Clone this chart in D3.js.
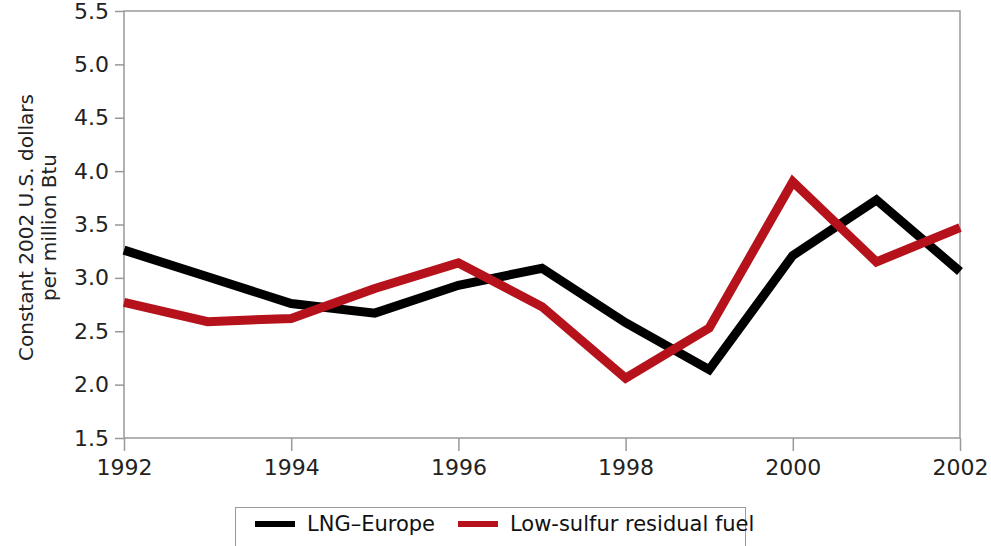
<!DOCTYPE html>
<html>
<head>
<meta charset="utf-8">
<script src="https://cdn.jsdelivr.net/npm/d3@7"></script>
<style>
  body { margin: 0; background: #fff; }
  svg { display: block; font-family: "DejaVu Sans", sans-serif; }
</style>
</head>
<body>
<script>
// Chart data
var years = [1992, 1993, 1994, 1995, 1996, 1997, 1998, 1999, 2000, 2001, 2002];
var lngEurope = [3.26, 3.01, 2.76, 2.67, 2.93, 3.09, 2.58, 2.14, 3.21, 3.73, 3.06];
var lowSulfur = [2.77, 2.59, 2.62, 2.90, 3.14, 2.73, 2.06, 2.53, 3.90, 3.15, 3.47];
var yTicks = [1.5, 2.0, 2.5, 3.0, 3.5, 4.0, 4.5, 5.0, 5.5];
var xTicks = [1992, 1994, 1996, 1998, 2000, 2002];
var seriesNames = ["LNG\u2013Europe", "Low-sulfur residual fuel"];
var seriesColors = ["#000000", "#b5121b"];

var width = 991, height = 546;
var margin = {left: 124, right: 31, top: 11, bottom: 108};

var svg = d3.select("body").append("svg")
    .attr("width", width)
    .attr("height", height);

var x = d3.scaleLinear()
    .domain([1992, 2002])
    .range([margin.left, width - margin.right]);

var y = d3.scaleLinear()
    .domain([1.5, 5.5])
    .range([height - margin.bottom, margin.top]);

// Plot frame
svg.append("rect")
    .attr("x", x(1992))
    .attr("y", y(5.5))
    .attr("width", x(2002) - x(1992))
    .attr("height", y(1.5) - y(5.5))
    .attr("fill", "none")
    .attr("stroke", "#999")
    .attr("stroke-width", 1.5);

// Y axis
var yAxis = svg.append("g")
    .attr("transform", "translate(" + margin.left + ",0)")
    .call(d3.axisLeft(y).tickValues(yTicks).tickFormat(d3.format(".1f")).tickSize(9).tickPadding(6));
yAxis.select(".domain").remove();
yAxis.selectAll("line").attr("stroke", "#999").attr("stroke-width", 1.5);
yAxis.selectAll("text").attr("font-size", 22).attr("fill", "#222")
    .attr("font-family", "DejaVu Sans");

// X axis
var xAxis = svg.append("g")
    .attr("transform", "translate(0," + y(1.5) + ")")
    .call(d3.axisBottom(x).tickValues(xTicks).tickFormat(d3.format("d")).tickSize(13).tickPadding(8));
xAxis.select(".domain").remove();
xAxis.selectAll("line").attr("stroke", "#999").attr("stroke-width", 1.5);
xAxis.selectAll("text").attr("font-size", 22).attr("fill", "#222")
    .attr("font-family", "DejaVu Sans");

// Y axis title
var title = svg.append("text")
    .attr("transform", "translate(33," + (y(3.5) + 3) + ") rotate(-90)")
    .attr("text-anchor", "middle")
    .attr("font-size", 20)
    .attr("fill", "#222");
title.append("tspan").attr("x", 0).attr("dy", 0).text("Constant 2002 U.S. dollars");
title.append("tspan").attr("x", 0).attr("dy", 23).text("per million Btu");

// Lines
var line = d3.line()
    .x(function(d, i) { return x(years[i]); })
    .y(function(d) { return y(d); });

[lngEurope, lowSulfur].forEach(function(s, i) {
    svg.append("path")
        .datum(s)
        .attr("fill", "none")
        .attr("stroke", seriesColors[i])
        .attr("stroke-width", 9)
        .attr("stroke-linejoin", "miter")
        .attr("d", line);
});

// Legend
var legend = svg.append("g");
legend.append("rect")
    .attr("x", 235.5)
    .attr("y", 507.5)
    .attr("width", 510)
    .attr("height", 60)
    .attr("fill", "#fff")
    .attr("stroke", "#999")
    .attr("stroke-width", 1);

var legendX = [255, 458];
seriesNames.forEach(function(name, i) {
    legend.append("line")
        .attr("x1", legendX[i])
        .attr("x2", legendX[i] + 40)
        .attr("y1", 524)
        .attr("y2", 524)
        .attr("stroke", seriesColors[i])
        .attr("stroke-width", 6);
    legend.append("text")
        .attr("x", legendX[i] + 52)
        .attr("y", 524)
        .attr("dy", "0.35em")
        .attr("font-size", 21)
        .attr("fill", "#111")
        .text(name);
});
</script>
</body>
</html>
